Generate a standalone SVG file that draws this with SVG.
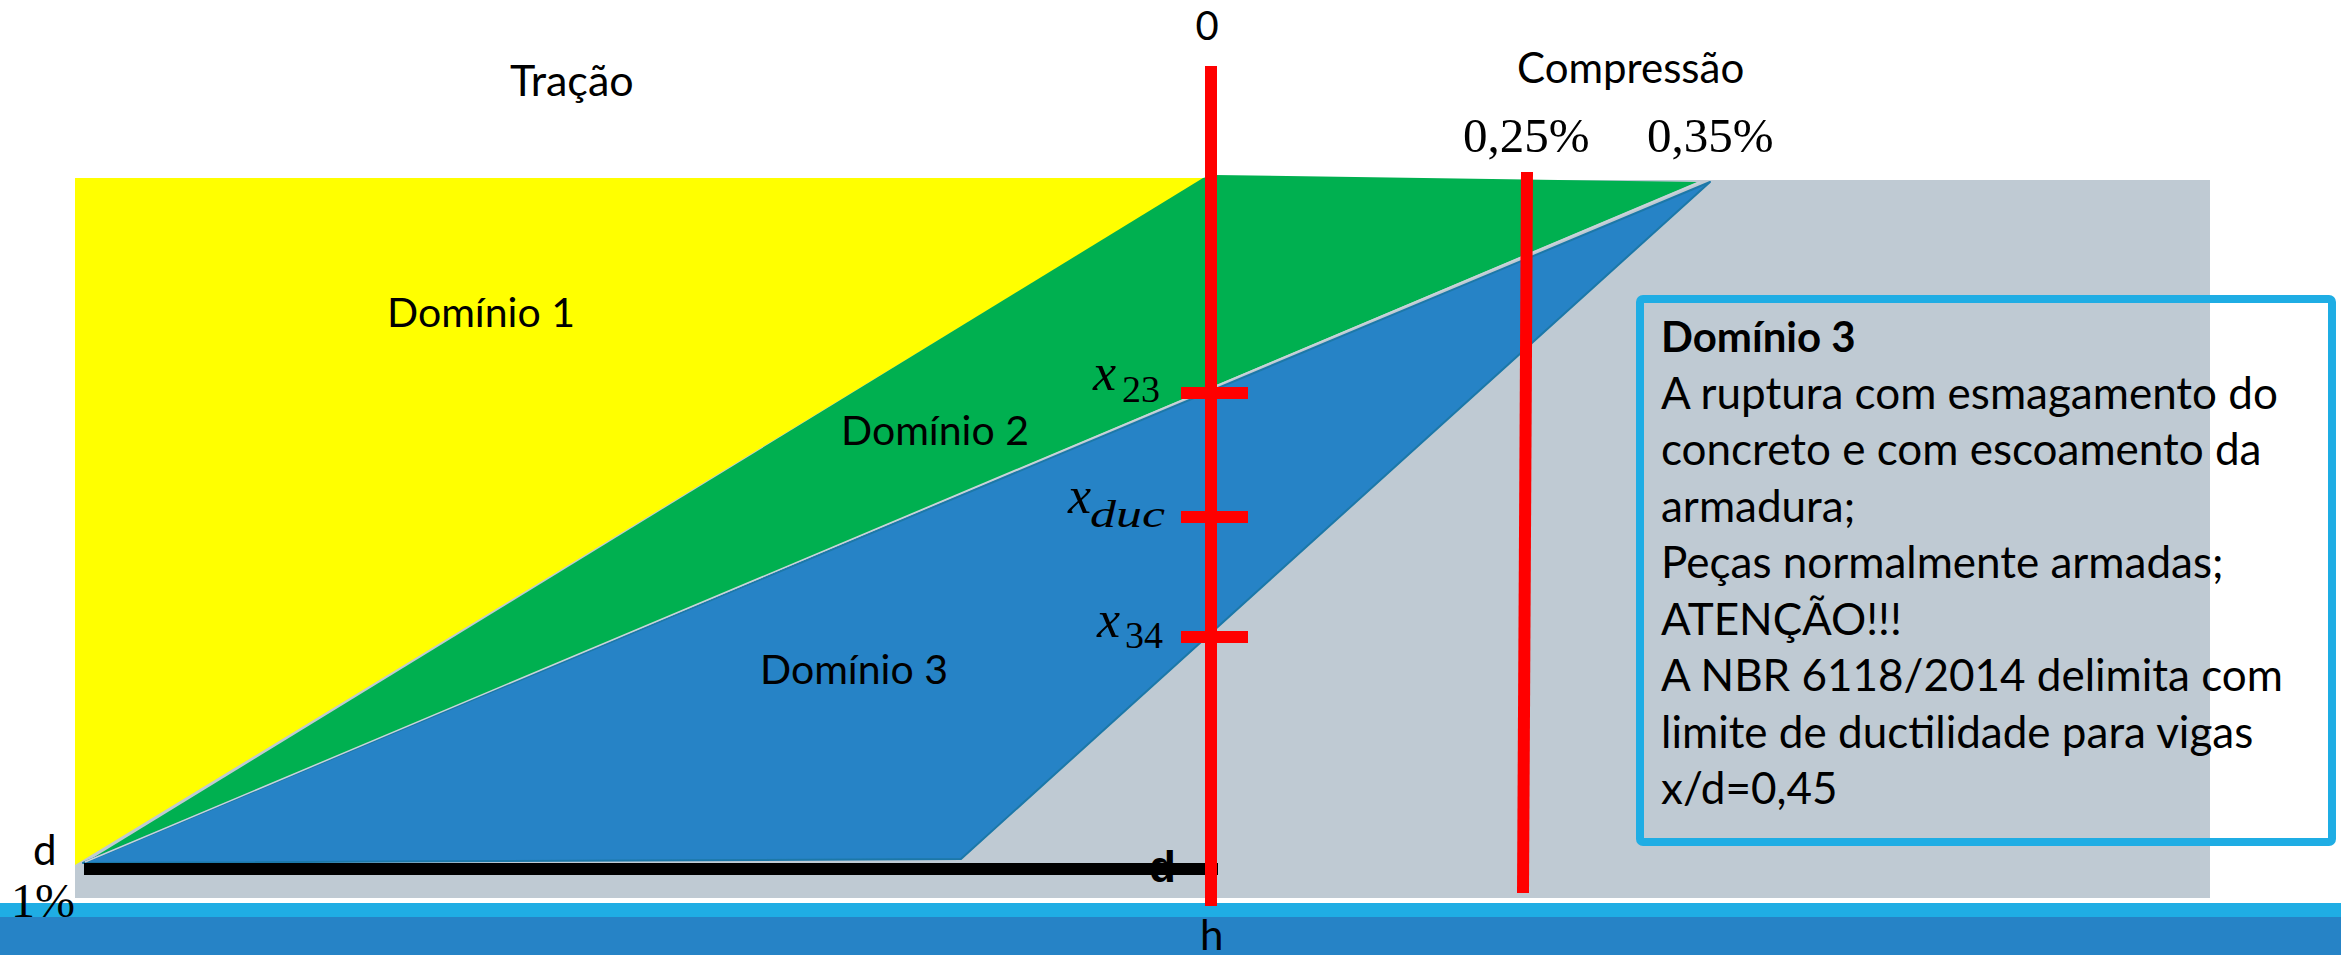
<svg xmlns="http://www.w3.org/2000/svg" width="2341" height="955" viewBox="0 0 2341 955">
<style>
.sans{font-family:Lato,"Open Sans","Liberation Sans",sans-serif;fill:#000}
.serif{font-family:"Liberation Serif","DejaVu Serif",serif;fill:#000}
.box{font-size:44px}
.red{fill:#FF0000}
</style>
<rect width="2341" height="955" fill="#FFFFFF"/>
<g id="background">
<rect x="75" y="180" width="2135" height="718" fill="#BFCAD3"/>
<rect x="0" y="903" width="2341" height="14" fill="#1FADE4"/>
<rect x="0" y="917" width="2341" height="38" fill="#2683C6"/>
</g>
<g id="dominio1">
<polygon points="75,178 1205,178 75,865" fill="#FFFF00"/>
<text class="sans" x="387" y="327" font-size="41">Domínio 1</text>
</g>
<g id="dominio2">
<polygon points="1203,178 1215,175 1697,182 83,864" fill="#00B050"/>
<text class="sans" x="841" y="445" font-size="41">Domínio 2</text>
</g>
<g id="dominio3">
<polygon points="83,863 1710,182 961,859" fill="#2683C6" stroke="#1C78A8" stroke-width="2" stroke-linejoin="round"/>
<line x1="85" y1="862" x2="1700" y2="182" stroke="#C9D3DA" stroke-width="1.5"/>
<text class="sans" x="760" y="684" font-size="41">Domínio 3</text>
</g>
<g id="connectors">
<rect x="84" y="863" width="1134" height="12" fill="#000"/>
<rect class="red" x="1205" y="66" width="12" height="840"/>
<rect class="red" x="1181" y="387" width="67" height="12"/>
<rect class="red" x="1181" y="511" width="67" height="12"/>
<rect class="red" x="1181" y="631" width="67" height="12"/>
<line x1="1527" y1="172" x2="1523" y2="893" stroke="#FF0000" stroke-width="12"/>
</g>
<g id="labels">
<text class="sans" x="1207" y="40" font-size="40" text-anchor="middle">0</text>
<text class="sans" x="510" y="96" font-size="43">Tração</text>
<text class="sans" x="1517" y="83" font-size="42">Compressão</text>
<text class="serif" x="1463" y="152" font-size="49">0,25%</text>
<text class="serif" x="1647" y="152" font-size="49">0,35%</text>
<text class="sans" x="33" y="865" font-size="42">d</text>
<text class="serif" x="11" y="917" font-size="48">1%</text>
<text x="1149" y="882" font-size="44" font-weight="bold" font-family="'Liberation Sans',Arial,sans-serif">d</text>
<text class="sans" x="1200" y="950" font-size="42">h</text>
</g>
<g id="marks">
<text class="serif" x="1093" y="390" font-size="52" font-style="italic">x</text>
<text class="serif" x="1122" y="402" font-size="38">23</text>
<text class="serif" x="1068" y="513" font-size="52" font-style="italic">x</text>
<text class="serif" x="1090" y="527" font-size="38" font-style="italic" textLength="75" lengthAdjust="spacingAndGlyphs">duc</text>
<text class="serif" x="1097" y="637" font-size="52" font-style="italic">x</text>
<text class="serif" x="1125" y="648" font-size="38">34</text>
</g>
<g id="info-box">
<rect x="1640" y="299" width="692" height="543" rx="3" fill="none" stroke="#1FADE4" stroke-width="8"/>
<text class="sans" x="1661" y="352" font-size="42" font-weight="bold">Domínio 3</text>
<text class="sans box" x="1661" y="409">A ruptura com esmagamento do</text>
<text class="sans box" x="1661" y="465">concreto e com escoamento da</text>
<text class="sans box" x="1661" y="522">armadura;</text>
<text class="sans box" x="1661" y="578">Peças normalmente armadas;</text>
<text class="sans box" x="1661" y="635">ATENÇÃO!!!</text>
<text class="sans box" x="1661" y="691">A NBR 6118/2014 delimita com</text>
<text class="sans box" x="1661" y="748">limite de ductilidade para vigas</text>
<text class="sans box" x="1661" y="804">x/d=0,45</text>
</g>
</svg>
